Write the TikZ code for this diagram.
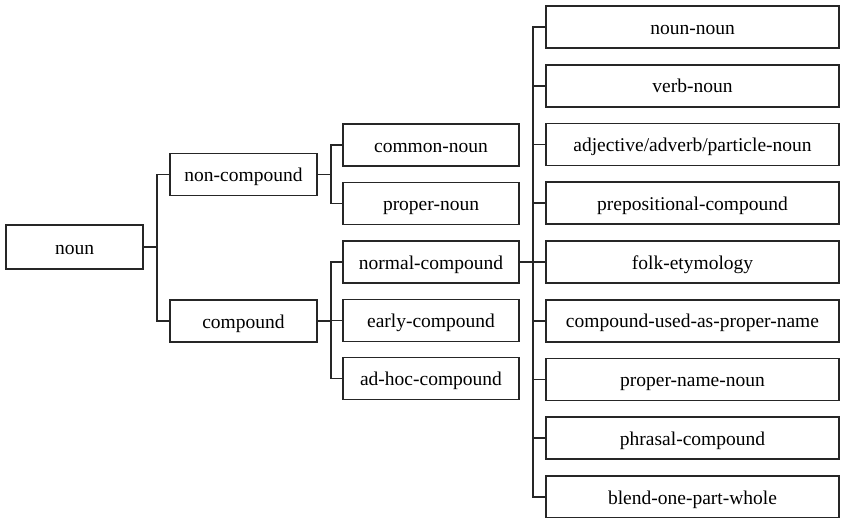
\documentclass[tikz,border=0pt]{standalone}
\usepackage{fontspec}
\setmainfont{Liberation Serif}
\usetikzlibrary{positioning}

\tikzset{
    box/.style={draw=black!85, line width=1.8pt, minimum height=42pt, inner sep=0pt,
        text height=16pt, text depth=2pt, font=\fontsize{19.5}{22}\selectfont},
    link/.style={draw=black!85, line width=1.8pt},
}

\begin{document}
\begin{tikzpicture}[x=1pt,y=-1pt]
    \useasboundingbox (0,0) rectangle (841,517);

    % root and first level
    \node[box, minimum width=137pt, minimum height=44pt] (noun) at (74.5,247) {noun};
    \node[box, minimum width=147pt] (noncomp) at (243.5,174.5) {non-compound};
    \node[box, minimum width=147pt] (comp) at (243.5,321) {compound};

    % second level
    \node[box, minimum width=176pt] (common) at (431,145) {common-noun};
    \node[box, minimum width=176pt] (proper) at (431,203.5) {proper-noun};
    \node[box, minimum width=176pt] (normal) at (431,262) {normal-compound};
    \node[box, minimum width=176pt] (early) at (431,320.5) {early-compound};
    \node[box, minimum width=176pt] (adhoc) at (431,378.5) {ad-hoc-compound};

    % third level
    \foreach \name/\txt [count=\i from 0] in {nn/noun-noun, vn/verb-noun,
        adj/{adjective/adverb/particle-noun}, prep/prepositional-compound,
        folk/folk-etymology, used/compound-used-as-proper-name,
        pnn/proper-name-noun, phr/phrasal-compound, blend/blend-one-part-whole}
        \node[box, minimum width=293pt] (\name) at (692.5,27+58.75*\i) {\txt};

    % brackets
    \draw[link] (noun.east) -- ++(13,0) |- (noncomp.west);
    \draw[link] (noun.east) -- ++(13,0) |- (comp.west);
    \foreach \n in {common,proper}
        \draw[link] (noncomp.east) -- ++(13,0) |- (\n.west);
    \foreach \n in {normal,early,adhoc}
        \draw[link] (comp.east) -- ++(13,0) |- (\n.west);
    \foreach \n in {nn,vn,adj,prep,folk,used,pnn,phr,blend}
        \draw[link] (normal.east) -- ++(13,0) |- (\n.west);
\end{tikzpicture}
\end{document}
